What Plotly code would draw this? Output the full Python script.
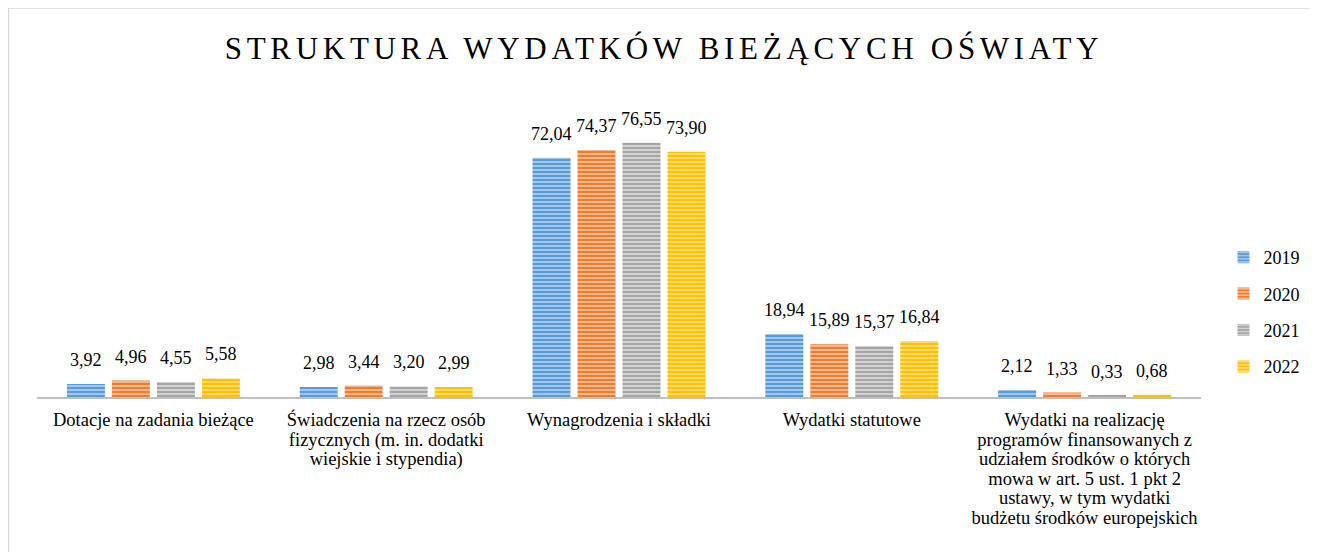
import plotly.graph_objects as go

categories = [
    "Dotacje na zadania bieżące",
    "Świadczenia na rzecz osób<br>fizycznych (m. in. dodatki<br>wiejskie i stypendia)",
    "Wynagrodzenia i składki",
    "Wydatki statutowe",
    "Wydatki na realizację<br>programów finansowanych z<br>udziałem środków o których<br>mowa w art. 5 ust. 1 pkt 2<br>ustawy, w tym wydatki<br>budżetu środków europejskich",
]
years = ["2019", "2020", "2021", "2022"]
v2019 = [3.92, 2.98, 72.04, 18.94, 2.12]
v2020 = [4.96, 3.44, 74.37, 15.89, 1.33]
v2021 = [4.55, 3.20, 76.55, 15.37, 0.33]
v2022 = [5.58, 2.99, 73.90, 16.84, 0.68]
series = [v2019, v2020, v2021, v2022]

colors = ["#5B9BD5", "#ED7D31", "#A5A5A5", "#FFC000"]
light = ["#A9CBEA", "#F6BE97", "#D6D6D6", "#FFDF7A"]

SERIF = "'Liberation Serif', 'Times New Roman', serif"
W, H = 1318, 552
L, R, T, B = 28.5, 1193.5, 92, 389
BARGAP = 0.227

tick_text = ["<br>".join(f"<span style='font-size:18.5px'>{ln}</span>" for ln in c.split("<br>"))
             for c in categories]
idx = list(range(len(categories)))

fig = go.Figure()
annotations = []
slot = (1 - BARGAP) / len(series)
for i, (yr, vals) in enumerate(zip(years, series)):
    fig.add_trace(go.Bar(
        name=yr, x=idx, y=vals,
        marker=dict(color=colors[i], line=dict(width=0),
                    pattern=dict(shape="-", bgcolor=colors[i], fgcolor=light[i],
                                 fgopacity=1, size=4, solidity=0.45, fillmode="replace")),
        legendgroup=yr,
    ))
    off = (i - (len(series) - 1) / 2) * slot
    for j, v in enumerate(vals):
        annotations.append(dict(
            x=j + off, y=v, xref="x", yref="y", text=f"{v:.2f}".replace(".", ","),
            showarrow=False, yanchor="bottom", xanchor="center", yshift=12,
            font=dict(family=SERIF, size=18, color="#000000"),
        ))

def px_x(p):
    return (p - L) / (R - L)

def px_y(p):
    return (B - p) / (B - T)

fig.update_layout(
    width=W, height=H,
    margin=dict(l=L, r=W - R, t=T, b=H - B, pad=0),
    paper_bgcolor="white", plot_bgcolor="white",
    barmode="group", bargap=BARGAP, bargroupgap=0.156,
    font=dict(family=SERIF, size=16, color="#000000"),
    title=dict(text="STRUKTURA WYDATKÓW BIEŻĄCYCH OŚWIATY",
               x=656 / W, xref="container", xanchor="center",
               y=1 - 40 / H, yref="container", yanchor="middle",
               font=dict(family=SERIF, size=31, color="#000000")),
    legend=dict(x=px_x(1216), xanchor="left", y=px_y(231), yanchor="top",
                font=dict(family=SERIF, size=18),
                tracegroupgap=10, itemwidth=30, bgcolor="rgba(0,0,0,0)"),
    showlegend=True,
    xaxis=dict(showline=True, linecolor="#BFBFBF", linewidth=2,
               ticks="outside", ticklen=9, tickcolor="rgba(0,0,0,0)",
               tickmode="array", tickvals=idx, ticktext=tick_text,
               range=[-0.5, len(categories) - 0.5],
               showgrid=False, zeroline=False,
               tickfont=dict(family=SERIF, size=15), tickangle=0),
    yaxis=dict(range=[0, (B - T) / 3.32], visible=False, showgrid=False, zeroline=False),
    annotations=annotations,
    shapes=[dict(type="rect", xref="paper", yref="paper",
                 x0=px_x(0), x1=px_x(1304), y0=px_y(600), y1=px_y(0),
                 line=dict(color="#D9D9D9", width=1.5), fillcolor="rgba(0,0,0,0)", layer="below")],
)

fig.write_html(
    "out.html",
    post_script="document.querySelectorAll('.gtitle').forEach(function(e){e.style.letterSpacing='4.7px';});",
)
